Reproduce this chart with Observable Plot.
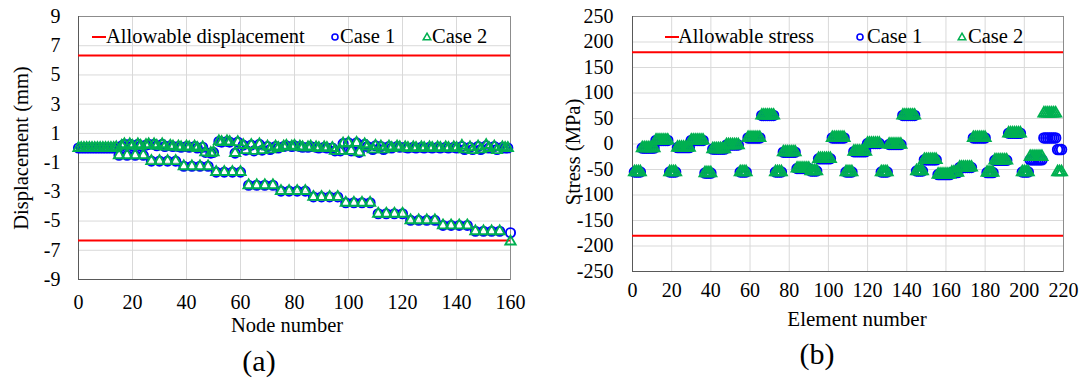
<!DOCTYPE html>
<html><head><meta charset="utf-8">
<script src="https://cdn.jsdelivr.net/npm/d3@7"></script>
<script src="https://cdn.jsdelivr.net/npm/@observablehq/plot@0.6"></script>
<style>
body{margin:0;background:#fff;}
#wrap{position:relative;width:1083px;height:381px;overflow:hidden;font-family:"Liberation Serif","Times New Roman",serif;color:#000;background:#fff;}
.abs{position:absolute;white-space:nowrap;line-height:1;}
.plot{position:absolute;top:0;}
</style></head><body><div id="wrap"></div>
<script>
// ---------- data ----------
const nodeTicks = [0, 20, 40, 60, 80, 100, 120, 140, 160];
const dispTicks = [-9, -7, -5, -3, -1, 1, 3, 5, 7, 9];
const elemTicks = [0, 20, 40, 60, 80, 100, 120, 140, 160, 180, 200, 220];
const stressTicks = [-250, -200, -150, -100, -50, 0, 50, 100, 150, 200, 250];
const allowableDisplacement = 6.33;   // mm
const allowableStress = 180;          // MPa
const legendA = ["Allowable displacement", "Case 1", "Case 2"];
const legendB = ["Allowable stress", "Case 1", "Case 2"];

// displacement (mm) at nodes 0..160
const dispCase1 = [
  0, 0, 0, 0, 0, 0, 0, 0, 0, 0,
  0, 0, 0, 0, 0.05, -0.5, 0.15, 0.25, -0.5, 0.25,
  0.15, -0.5, 0.25, 0.15, -0.5, 0.2, 0.25, -0.9, 0.25, 0.15,
  -0.9, 0.25, 0.1, -0.9, 0.15, 0.1, -0.9, 0.1, 0.05, -1.25,
  0.1, 0.05, -1.25, 0.1, 0, -1.25, 0.05, -0.3, -1.25, -0.35,
  -0.3, -1.65, 0.45, 0.4, -1.65, 0.45, 0.4, -1.65, -0.35, 0.4,
  -1.65, 0.2, -0.15, -2.55, 0.2, -0.2, -2.55, 0.25, -0.15, -2.55,
  0.1, -0.1, -2.55, 0.1, 0, -2.95, 0.1, 0.15, -2.95, 0.1,
  0.15, -2.95, 0.1, 0.05, -2.95, 0.05, 0.1, -3.35, 0.05, 0,
  -3.35, 0.05, 0, -3.35, 0, -0.2, -3.35, -0.2, 0.3, -3.75,
  0.35, -0.2, -3.75, 0.35, -0.3, -3.75, 0.25, 0.1, -3.75, -0.1,
  0.15, -4.5, 0.1, -0.1, -4.5, 0.1, 0, -4.5, 0.1, 0.05,
  -4.5, 0.05, 0, -4.95, 0.05, 0, -4.95, 0.05, 0, -4.95,
  0.05, 0, -4.95, 0.05, 0, -5.3, 0.05, 0, -5.3, 0.05,
  0, -5.3, 0.1, -0.1, -5.3, 0.05, -0.1, -5.7, 0.1, -0.1,
  -5.7, 0.15, 0, -5.7, 0.1, -0.1, -5.7, 0.05, 0, 0,
  -5.8
];
const dispCase2 = [
  0, 0, 0, 0, 0, 0, 0, 0, 0, 0,
  0, 0, 0, 0, 0.05, -0.5, 0.15, 0.25, -0.5, 0.25,
  0.15, -0.5, 0.25, 0.15, -0.5, 0.2, 0.25, -0.9, 0.25, 0.15,
  -0.9, 0.25, 0.1, -0.9, 0.15, 0.1, -0.9, 0.1, 0.05, -1.25,
  0.1, 0.05, -1.25, 0.1, 0, -1.25, 0.05, -0.3, -1.25, -0.35,
  -0.3, -1.65, 0.45, 0.4, -1.65, 0.45, 0.4, -1.65, -0.35, 0.4,
  -1.65, 0.2, -0.15, -2.55, 0.2, -0.2, -2.55, 0.25, -0.15, -2.55,
  0.1, -0.1, -2.55, 0.1, 0, -2.95, 0.1, 0.15, -2.95, 0.1,
  0.15, -2.95, 0.1, 0.05, -2.95, 0.05, 0.1, -3.35, 0.05, 0,
  -3.35, 0.05, 0, -3.35, 0, -0.2, -3.35, -0.2, 0.3, -3.75,
  0.35, -0.2, -3.75, 0.35, -0.3, -3.75, 0.25, 0.1, -3.75, -0.1,
  0.15, -4.5, 0.1, -0.1, -4.5, 0.1, 0, -4.5, 0.1, 0.05,
  -4.5, 0.05, 0, -4.95, 0.05, 0, -4.95, 0.05, 0, -4.95,
  0.05, 0, -4.95, 0.05, 0, -5.3, 0.05, 0, -5.3, 0.05,
  0, -5.3, 0.15, -0.1, -5.3, 0.05, -0.15, -5.7, 0.1, -0.1,
  -5.7, 0.2, 0, -5.7, 0.1, -0.15, -5.7, 0.05, 0, 0,
  -6.4
];

// stress (MPa) at elements 1..219
const stressCase1 = [
  -55, -55, -55, -55, -8, -8, -8, -8, -8, -8, -8, 7, 7, 7, 7, 7, 7, 7,
  -55, -55, -55, -55, -7, -7, -7, -7, -7, -7, -7, 7, 7, 7, 7, 7, 7, 7,
  -57, -57, -57, -57, -10, -10, -10, -10, -10, -10, -10, -2, -2, -2, -2, -2, -2, -2,
  -55, -55, -55, -55, 12, 12, 12, 12, 12, 12, 12, 56, 56, 56, 56, 56, 56, 56,
  -55, -55, -55, -55, -16, -16, -16, -16, -16, -16, -16, -48, -48, -48, -48, -48, -48, -48,
  -53, -53, -53, -53, -29, -29, -29, -29, -29, -29, -29, 12, 12, 12, 12, 12, 12, 12,
  -55, -55, -55, -55, -15, -15, -15, -15, -15, -15, -15, 1, 1, 1, 1, 1, 1, 1,
  -55, -55, -55, -55, -1, -1, -1, -1, -1, -1, -1, 56, 56, 56, 56, 56, 56, 56,
  -53, -53, -53, -53, -31, -31, -31, -31, -31, -31, -31, -60, -60, -60, -60, -60, -60, -60,
  -56, -56, -56, -56, -46, -46, -46, -46, -46, -46, -46, 12, 12, 12, 12, 12, 12, 12,
  -56, -56, -56, -56, -32, -32, -32, -32, -32, -32, -32, 21, 21, 21, 21, 21, 21, 21,
  -55, -55, -55, -55, -31, -31, -31, -31, -31, -31, -31, 12, 12, 12, 12, 12, 12, 12,
  -11, -11, -11
];
const stressCase2 = [
  -55, -55, -55, -55, -8, -8, -8, -8, -8, -8, -8, 7, 7, 7, 7, 7, 7, 7,
  -55, -55, -55, -55, -7, -7, -7, -7, -7, -7, -7, 7, 7, 7, 7, 7, 7, 7,
  -57, -57, -57, -57, -10, -10, -10, -10, -10, -10, -10, -2, -2, -2, -2, -2, -2, -2,
  -55, -55, -55, -55, 12, 12, 12, 12, 12, 12, 12, 56, 56, 56, 56, 56, 56, 56,
  -55, -55, -55, -55, -16, -16, -16, -16, -16, -16, -16, -48, -48, -48, -48, -48, -48, -48,
  -53, -53, -53, -53, -29, -29, -29, -29, -29, -29, -29, 12, 12, 12, 12, 12, 12, 12,
  -55, -55, -55, -55, -15, -15, -15, -15, -15, -15, -15, 1, 1, 1, 1, 1, 1, 1,
  -55, -55, -55, -55, -1, -1, -1, -1, -1, -1, -1, 56, 56, 56, 56, 56, 56, 56,
  -53, -53, -53, -53, -31, -31, -31, -31, -31, -31, -31, -60, -60, -60, -60, -60, -60, -60,
  -56, -56, -56, -56, -46, -46, -46, -46, -46, -46, -46, 12, 12, 12, 12, 12, 12, 12,
  -56, -56, -56, -56, -32, -32, -32, -32, -32, -32, -32, 21, 21, 21, 21, 21, 21, 21,
  -55, -55, -55, -55, -25, -25, -25, -25, -25, -25, -25, 60, 60, 60, 60, 60, 60, 60,
  -55, -55, -55
];

// ---------- style ----------
const RED = "#ff0000", BLUE = "#0000ff", GREEN = "#00b050";
const GRID = "#d9d9d9", FRAME = "#8c8c8c", AXIS = "#595959";
const FONT = "Liberation Serif, Times New Roman, serif";
const fmt = d => String(d);

const wrap = d3.select("#wrap");

function panel(cfg) {
  const rows1 = cfg.c1.map((v, i) => ({x: i + cfg.x0, y: v}));
  const rows2 = cfg.c2.map((v, i) => ({x: i + cfg.x0, y: v}));
  const xd = cfg.xDomain, yd = cfg.yDomain;
  const chart = Plot.plot({
    width: cfg.width, height: cfg.height,
    marginLeft: cfg.mL, marginRight: cfg.mR, marginTop: cfg.mT, marginBottom: cfg.mB,
    style: {fontFamily: FONT, fontSize: "20px", color: "#000", background: "transparent", overflow: "visible"},
    x: {domain: xd, label: null},
    y: {domain: yd, label: null},
    marks: [
      Plot.gridX(cfg.xTicks.filter(t => t > xd[0] && t < xd[1]), {stroke: GRID, strokeOpacity: 1}),
      Plot.gridY(cfg.yTicks.filter(t => t > yd[0] && t < yd[1]), {stroke: GRID, strokeOpacity: 1}),
      Plot.frame({stroke: FRAME}),
      Plot.ruleX([xd[0]], {stroke: AXIS}),
      Plot.ruleY([yd[0]], {stroke: AXIS}),
      Plot.ruleY([cfg.limit, -cfg.limit], {stroke: RED, strokeWidth: 2}),
      Plot.dot(rows1, {x: "x", y: "y", symbol: "circle", r: cfg.r1, stroke: BLUE, strokeWidth: 1.9, fill: "none"}),
      Plot.dot(rows2, {x: "x", y: "y", symbol: "triangle", r: cfg.r2, stroke: GREEN, strokeWidth: 1.9, fill: "none"}),
      Plot.axisX({ticks: cfg.xTicks, tickSize: 0, tickPadding: cfg.xPad, tickFormat: fmt, label: null, fontFamily: FONT}),
      Plot.axisY({ticks: cfg.yTicks, tickSize: 0, tickPadding: cfg.yPad, tickFormat: fmt, label: null, fontFamily: FONT})
    ]
  });
  const holder = wrap.append("div").attr("class", "plot").style("left", cfg.left + "px");
  holder.node().appendChild(chart);
}

panel({left: 0, width: 540, height: 340, mL: 78, mR: 30, mT: 16, mB: 61,
  xDomain: [0, 160], yDomain: [-9, 9], xTicks: nodeTicks, yTicks: dispTicks,
  xPad: 15, yPad: 18, limit: allowableDisplacement, c1: dispCase1, c2: dispCase2, x0: 0, r1: 4.6, r2: 3.8});

panel({left: 560, width: 523, height: 340, mL: 72, mR: 20, mT: 16, mB: 69,
  xDomain: [0, 220], yDomain: [-250, 250], xTicks: elemTicks, yTicks: stressTicks,
  xPad: 11, yPad: 19, limit: allowableStress, c1: stressCase1, c2: stressCase2, x0: 1, r1: 4.8, r2: 4.1});

// ---------- text ----------
function text(str, cx, baseline, fs, anchor) {
  const d = wrap.append("div").attr("class", "abs").text(str)
    .style("font-size", fs + "px").style("top", (baseline - 0.8375 * fs) + "px");
  if (anchor === "start") d.style("left", cx + "px");
  else d.style("left", cx + "px").style("transform", "translateX(-50%)");
  return d;
}
function vtext(str, cx, cy, fs) {
  wrap.append("div").attr("class", "abs").text(str)
    .style("font-size", fs + "px").style("left", cx + "px").style("top", cy + "px")
    .style("transform", "translate(-50%,-50%) rotate(-90deg)");
}
text("Node number", 287, 332.5, 20.5);
text("Element number", 857, 326.5, 21);
text("(a)", 259, 371, 30);
text("(b)", 817, 364, 30);
vtext("Displacement (mm)", 21, 148, 20.5);
vtext("Stress (MPa)", 573, 152, 20.5);

// ---------- legends ----------
function marker(kind, cx, cy) {
  const s = wrap.append("svg").attr("class", "abs").attr("width", 16).attr("height", 16)
    .style("left", (cx - 8) + "px").style("top", (cy - 8) + "px");
  if (kind === "line") s.append("line").attr("x1", 1).attr("x2", 15).attr("y1", 8).attr("y2", 8).attr("stroke", RED).attr("stroke-width", 2);
  if (kind === "circle") s.append("circle").attr("cx", 8).attr("cy", 8).attr("r", 3).attr("fill", "none").attr("stroke", BLUE).attr("stroke-width", 1.6);
  if (kind === "triangle") s.append("path").attr("d", "M8,4.2L11.8,10.8L4.2,10.8Z").attr("fill", "none").attr("stroke", GREEN).attr("stroke-width", 1.5);
}
const LB = 43.3, LFS = 20.5;
marker("line", 98.5, 37); text(legendA[0], 106, LB, LFS, "start");
marker("circle", 335, 37); text(legendA[1], 340, LB, LFS, "start");
marker("triangle", 427, 37); text(legendA[2], 432, LB, LFS, "start");
marker("line", 672, 37); text(legendB[0], 678, LB, LFS, "start");
marker("circle", 860, 37); text(legendB[1], 867, LB, LFS, "start");
marker("triangle", 962, 37); text(legendB[2], 968, LB, LFS, "start");
</script></body></html>
